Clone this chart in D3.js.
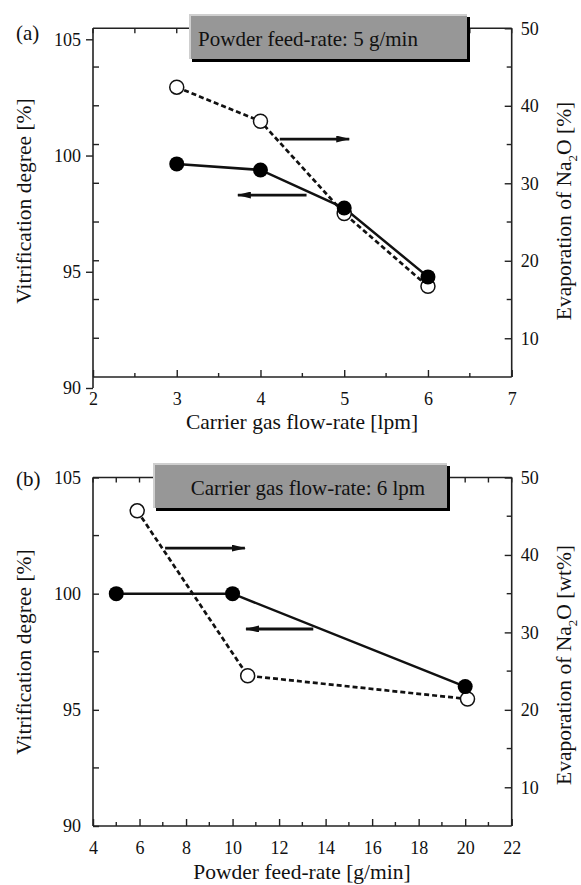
<!DOCTYPE html>
<html>
<head>
<meta charset="utf-8">
<script src="https://cdn.jsdelivr.net/npm/d3@7/dist/d3.min.js"></script>
<style>
  html, body { margin: 0; padding: 0; background: #fff; }
  svg { display: block; }
  text { font-family: "Liberation Serif", "Times New Roman", serif; fill: #111; }
</style>
</head>
<body>
<svg id="chart" width="581" height="885"></svg>
<script>
// ---------------- DATA ----------------
// Panel (a): carrier gas flow-rate [lpm]
const carrierFlowRate = [3, 4, 5, 6];
const vitrificationA = [99.64, 99.38, 97.74, 94.78];      // left axis [%]
const evaporationA = [42.4, 38.0, 26.1, 16.7];             // right axis [%]

// Panel (b): powder feed-rate [g/min]
const feedRateVit = [5, 10, 20];
const vitrificationB = [100, 100, 96];                     // left axis [%]
const feedRateEvap = [5.9, 10.65, 20.1];
const evaporationB = [45.7, 24.4, 21.4];                   // right axis [wt%]

// Tick values
const xTicksA = [2, 3, 4, 5, 6, 7];
const xMinorA = [2.5, 3.5, 4.5, 5.5, 6.5];
const xTicksB = [4, 6, 8, 10, 12, 14, 16, 18, 20, 22];
const xMinorB = [5, 7, 9, 11, 13, 15, 17, 19, 21];
const yLeftTicks = [90, 95, 100, 105];
const yLeftMinorB = [92.5, 97.5, 102.5];
const yRightTicks = [10, 20, 30, 40, 50];
const yRightMinor = [15, 25, 35, 45];

// Arrow annotations (data coords on the left-axis scale)
const arrowsA = [
  {from: 4.23, to: 5.06, y: 100.71},   // -> right axis
  {from: 4.55, to: 3.73, y: 98.30}     // <- left axis
];
const arrowsB = [
  {from: 7.10, to: 10.53, y: 101.96},
  {from: 13.47, to: 10.58, y: 98.48}
];

const labels = {
  a: {tag: "(a)", box: "Powder feed-rate: 5 g/min", x: "Carrier gas flow-rate [lpm]", yl: "Vitrification degree [%]", yrUnit: " [%]"},
  b: {tag: "(b)", box: "Carrier gas flow-rate: 6 lpm", x: "Powder feed-rate [g/min]", yl: "Vitrification degree [%]", yrUnit: " [wt%]"}
};

// ---------------- DRAW ----------------
const svg = d3.select("#chart");
const defs = svg.append("defs");
defs.append("marker").attr("id", "ah").attr("viewBox", "0 0 14 7")
  .attr("refX", 13).attr("refY", 3.5).attr("markerWidth", 14).attr("markerHeight", 7)
  .attr("markerUnits", "userSpaceOnUse").attr("orient", "auto")
  .append("path").attr("d", "M0,0 L14,3.5 L0,7 Z").attr("fill", "#111");

const AX = "#222";
const FONT = "Liberation Serif, Times New Roman, serif";
const FS_TICK = 18;
const FS_TITLE = 21.5;

function styleAxis(sel) {
  sel.select(".domain").remove();
  sel.selectAll("line").attr("stroke", AX).attr("stroke-width", 1.4);
  sel.selectAll("text").attr("font-size", FS_TICK).style("font-family", FONT).attr("fill", "#111");
}

function drawPanel(cfg) {
  const g = svg.append("g");
  const L = 93, R = 511.7;
  const x = d3.scaleLinear().domain(cfg.xDomain).range([L, R]);
  const yL = d3.scaleLinear().domain([90, 105]).range(cfg.yLRange);
  const yR = d3.scaleLinear().domain([5, 50]).range([cfg.bottom, cfg.top]);
  const fmt = d3.format("d");

  // frame lines
  g.append("line").attr("x1", L).attr("x2", R).attr("y1", cfg.bottom).attr("y2", cfg.bottom).attr("stroke", AX).attr("stroke-width", 1.6);
  g.append("line").attr("x1", L).attr("x2", R).attr("y1", cfg.top).attr("y2", cfg.top).attr("stroke", AX).attr("stroke-width", 1.6);
  g.append("line").attr("x1", R).attr("x2", R).attr("y1", cfg.top).attr("y2", cfg.bottom).attr("stroke", AX).attr("stroke-width", 1.6);
  g.append("line").attr("x1", L).attr("x2", L).attr("y1", cfg.top).attr("y2", Math.max(cfg.bottom, yL(90))).attr("stroke", AX).attr("stroke-width", 1.6);

  // bottom axis ticks (inward) + labels
  const gx = g.append("g").attr("transform", `translate(0,${cfg.bottom})`)
    .call(d3.axisBottom(x).tickValues(cfg.xTicks).tickFormat(fmt).tickSize(-7).tickPadding(15));
  styleAxis(gx);
  g.selectAll(".xminor").data(cfg.xMinor).join("line")
    .attr("x1", d => x(d)).attr("x2", d => x(d)).attr("y1", cfg.bottom).attr("y2", cfg.bottom - 4)
    .attr("stroke", AX).attr("stroke-width", 1.4);
  // top mirrored ticks
  g.selectAll(".xtop").data(cfg.xTicks.concat(cfg.xMinor)).join("line")
    .attr("x1", d => x(d)).attr("x2", d => x(d)).attr("y1", cfg.top).attr("y2", cfg.top + 5)
    .attr("stroke", AX).attr("stroke-width", 1.4);

  // left axis
  const gyl = g.append("g").attr("transform", `translate(${L},0)`)
    .call(d3.axisLeft(yL).tickValues(yLeftTicks).tickFormat(fmt)
      .tickSize(cfg.leftOut ? 7 : -6).tickPadding(cfg.leftOut ? 5 : 12));
  styleAxis(gyl);
  const leftMinorPos = cfg.leftMinorFromRight
    ? yRightTicks.concat(yRightMinor).filter(v => v < 50).map(v => yR(v))
    : yLeftMinorB.map(v => yL(v));
  g.selectAll(".ylminor").data(leftMinorPos).join("line")
    .attr("x1", L).attr("x2", L + 6).attr("y1", d => d).attr("y2", d => d)
    .attr("stroke", AX).attr("stroke-width", 1.4);

  // right axis (inward ticks)
  const gyr = g.append("g").attr("transform", `translate(${R},0)`)
    .call(d3.axisRight(yR).tickValues(yRightTicks).tickFormat(fmt).tickSize(-7).tickPadding(9));
  styleAxis(gyr);
  g.selectAll(".yrminor").data(yRightMinor).join("line")
    .attr("x1", R).attr("x2", R - 5).attr("y1", d => yR(d)).attr("y2", d => yR(d))
    .attr("stroke", AX).attr("stroke-width", 1.4);

  // legend box
  const b = cfg.box;
  g.append("rect").attr("x", b.x + 3).attr("y", b.y + 3).attr("width", b.w).attr("height", b.h).attr("fill", "#000");
  g.append("rect").attr("x", b.x).attr("y", b.y).attr("width", b.w).attr("height", b.h).attr("fill", "#979797");
  g.append("path").attr("d", `M${b.x + 1},${b.y + b.h} L${b.x + 1},${b.y + 1} L${b.x + b.w},${b.y + 1}`)
    .attr("fill", "none").attr("stroke", "#cfcfcf").attr("stroke-width", 2);
  g.append("text").attr("x", 308).attr("y", b.y + b.h / 2 + 9.5).attr("text-anchor", "middle")
    .attr("font-size", 21).text(cfg.lab.box);

  // series
  const lineR = d3.line().x(d => x(d[0])).y(d => yR(d[1]));
  const lineL = d3.line().x(d => x(d[0])).y(d => yL(d[1]));
  const evap = cfg.evapX.map((v, i) => [v, cfg.evapY[i]]);
  const vit = cfg.vitX.map((v, i) => [v, cfg.vitY[i]]);
  g.append("path").attr("d", lineR(evap)).attr("fill", "none").attr("stroke", "#111")
    .attr("stroke-width", 2.7).attr("stroke-dasharray", "5,3");
  g.append("path").attr("d", lineL(vit)).attr("fill", "none").attr("stroke", "#111").attr("stroke-width", 2.5);
  g.selectAll(".open").data(evap).join("circle")
    .attr("cx", d => x(d[0])).attr("cy", d => yR(d[1])).attr("r", 7)
    .attr("fill", "#fff").attr("stroke", "#111").attr("stroke-width", 1.5);
  g.selectAll(".filled").data(vit).join("circle")
    .attr("cx", d => x(d[0])).attr("cy", d => yL(d[1])).attr("r", 7.5).attr("fill", "#000");

  // arrows
  g.selectAll(".arrow").data(cfg.arrows).join("line")
    .attr("x1", d => x(d.from)).attr("x2", d => x(d.to)).attr("y1", d => yL(d.y)).attr("y2", d => yL(d.y))
    .attr("stroke", "#111").attr("stroke-width", 2.8).attr("marker-end", "url(#ah)");

  // texts
  g.append("text").attr("x", 16).attr("y", cfg.tagY).attr("font-size", 21).text(cfg.lab.tag);
  g.append("text").attr("x", 302).attr("y", cfg.xTitleY).attr("text-anchor", "middle").attr("font-size", FS_TITLE).text(cfg.lab.x);
  g.append("text").attr("transform", `translate(31,${cfg.ylMid}) rotate(-90)`).attr("text-anchor", "middle")
    .attr("font-size", FS_TITLE).text(cfg.lab.yl);
  const tr = g.append("text").attr("transform", `translate(571,${cfg.yrMid}) rotate(-90)`).attr("text-anchor", "middle")
    .attr("font-size", FS_TITLE);
  tr.append("tspan").text("Evaporation of Na");
  tr.append("tspan").attr("font-size", 13).attr("dy", 6).text("2");
  tr.append("tspan").attr("dy", -6).text("O" + cfg.lab.yrUnit);
}

drawPanel({
  xDomain: [2, 7], top: 28.3, bottom: 377, yLRange: [388, 39.3],
  xTicks: xTicksA, xMinor: xMinorA, leftOut: true, leftMinorFromRight: true,
  box: {x: 189, y: 14, w: 278, h: 45},
  evapX: carrierFlowRate, evapY: evaporationA, vitX: carrierFlowRate, vitY: vitrificationA,
  arrows: arrowsA, lab: labels.a, tagY: 40, xTitleY: 429, ylMid: 201, yrMid: 211
});
drawPanel({
  xDomain: [4, 22], top: 477.5, bottom: 826, yLRange: [826, 477.5],
  xTicks: xTicksB, xMinor: xMinorB, leftOut: false, leftMinorFromRight: false,
  box: {x: 153, y: 463, w: 294, h: 45},
  evapX: feedRateEvap, evapY: evaporationB, vitX: feedRateVit, vitY: vitrificationB,
  arrows: arrowsB, lab: labels.b, tagY: 486, xTitleY: 879, ylMid: 652, yrMid: 665
});
</script>
</body>
</html>
